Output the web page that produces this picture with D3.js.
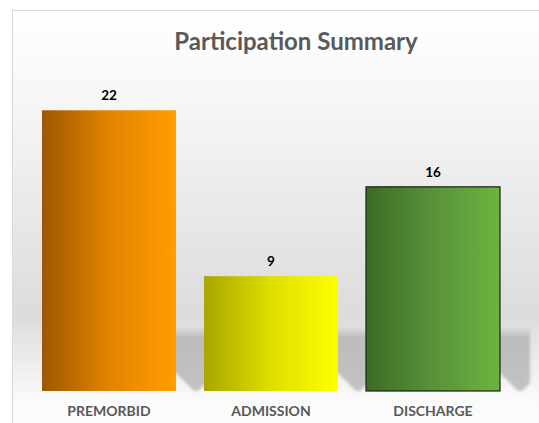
<!DOCTYPE html>
<html>
<head>
<meta charset="utf-8">
<script src="https://cdn.jsdelivr.net/npm/d3@7"></script>
<style>
  body { margin: 0; background: #ffffff; }
  text { font-family: Lato, "Open Sans", sans-serif; }
</style>
</head>
<body>
<div class="chart"></div>
<script>
// chart data
var categories = ["PREMORBID", "ADMISSION", "DISCHARGE"];
var values = [22, 9, 16];
var chartTitle = "Participation Summary";

// gradient colours per bar: dark left edge -> bright right edge
var barColors = [
  ["#9c5800", "#e38400", "#ff9d00"],
  ["#a8a600", "#dede00", "#ffff00"],
  ["#3d6b25", "#58923a", "#6db33f"]
];

var svgWidth = 539;
var svgHeight = 423;

var svg = d3.select(".chart")
  .append("svg")
  .attr("width", svgWidth)
  .attr("height", svgHeight);

var defs = svg.append("defs");

// background of the chart area
var bg = defs.append("linearGradient")
  .attr("id", "bgGrad")
  .attr("x1", 0).attr("y1", 0).attr("x2", 0).attr("y2", 1);
bg.append("stop").attr("offset", "0%").attr("stop-color", "#ffffff");
bg.append("stop").attr("offset", "22%").attr("stop-color", "#f6f6f6");
bg.append("stop").attr("offset", "72%").attr("stop-color", "#dcdcdc");
bg.append("stop").attr("offset", "84%").attr("stop-color", "#eeeeee");
bg.append("stop").attr("offset", "92%").attr("stop-color", "#fafafa");
bg.append("stop").attr("offset", "100%").attr("stop-color", "#fdfdfd");

svg.append("rect")
  .attr("x", 12.5)
  .attr("y", 10.5)
  .attr("width", svgWidth)
  .attr("height", svgHeight)
  .attr("fill", "url(#bgGrad)")
  .attr("stroke", "#d9d9d9")
  .attr("stroke-width", 1);

barColors.forEach(function(c, i) {
  var g = defs.append("linearGradient")
    .attr("id", "barGrad" + i)
    .attr("x1", 0).attr("y1", 0).attr("x2", 1).attr("y2", 0);
  g.append("stop").attr("offset", "0%").attr("stop-color", c[0]);
  g.append("stop").attr("offset", "50%").attr("stop-color", c[1]);
  g.append("stop").attr("offset", "100%").attr("stop-color", c[2]);
});

// shadow fade
var sg = defs.append("linearGradient")
  .attr("id", "shadowGrad")
  .attr("x1", 0).attr("y1", 0).attr("x2", 0).attr("y2", 1);
sg.append("stop").attr("offset", "0%").attr("stop-color", "#bdbdbd").attr("stop-opacity", 0);
sg.append("stop").attr("offset", "18%").attr("stop-color", "#bcbcbc").attr("stop-opacity", 1);
sg.append("stop").attr("offset", "100%").attr("stop-color", "#c2c2c2").attr("stop-opacity", 1);

defs.append("filter")
  .attr("id", "blur")
  .append("feGaussianBlur")
  .attr("stdDeviation", 1.5);

// scales
var x = d3.scaleBand()
  .domain(categories)
  .range([28, 514])
  .paddingInner(0.173)
  .paddingOuter(0.0865);

var y = d3.scaleLinear()
  .domain([0, 25])
  .range([391, 72]);

// title
svg.append("text")
  .attr("x", 296)
  .attr("y", 50)
  .attr("text-anchor", "middle")
  .attr("font-size", "24px")
  .attr("font-weight", "bold")
  .attr("fill", "#595959")
  .text(chartTitle);

// shadows behind bars
svg.selectAll(".shadow")
  .data(categories)
  .enter()
  .append("path")
  .attr("class", "shadow")
  .attr("filter", "url(#blur)")
  .attr("fill", "url(#shadowGrad)")
  .attr("d", function(d) {
    var x1 = x(d) + x.bandwidth();
    var top = y(5.1);
    return "M" + (x1 - 10) + "," + top +
      "L" + (x1 + 30) + "," + top +
      "L" + (x1 + 30) + "," + (y(0) - 8) +
      "L" + (x1 + 22) + "," + y(0) +
      "L" + (x1 + 18) + "," + y(0) +
      "L" + x1 + "," + (y(0) - 18) +
      "L" + (x1 - 10) + "," + (y(0) - 18) + "Z";
  });

// bars
svg.selectAll(".bar")
  .data(values)
  .enter()
  .append("rect")
  .attr("class", "bar")
  .attr("x", (d, i) => x(categories[i]))
  .attr("y", d => y(d))
  .attr("width", x.bandwidth())
  .attr("height", d => y(0) - y(d))
  .attr("fill", (d, i) => "url(#barGrad" + i + ")")
  .attr("stroke", (d, i) => i === 2 ? "#14240c" : "none")
  .attr("stroke-width", 1.2);

// value labels
svg.selectAll(".valueLabel")
  .data(values)
  .enter()
  .append("text")
  .attr("class", "valueLabel")
  .attr("x", (d, i) => x(categories[i]) + x.bandwidth() / 2)
  .attr("y", d => y(d) - 10)
  .attr("text-anchor", "middle")
  .attr("font-size", "13.5px")
  .attr("font-weight", "bold")
  .attr("fill", "#000000")
  .text(d => d);

// category axis
var bottomAxis = d3.axisBottom(x).tickSize(0).tickPadding(0);
var xAxis = svg.append("g")
  .attr("transform", "translate(0, 405)")
  .call(bottomAxis);
xAxis.select(".domain").remove();
xAxis.selectAll("text")
  .attr("dy", "0.8em")
  .attr("font-family", "Lato, 'Open Sans', sans-serif")
  .attr("font-size", "14px")
  .attr("font-weight", "bold")
  .attr("fill", "#595959");
</script>
</body>
</html>
